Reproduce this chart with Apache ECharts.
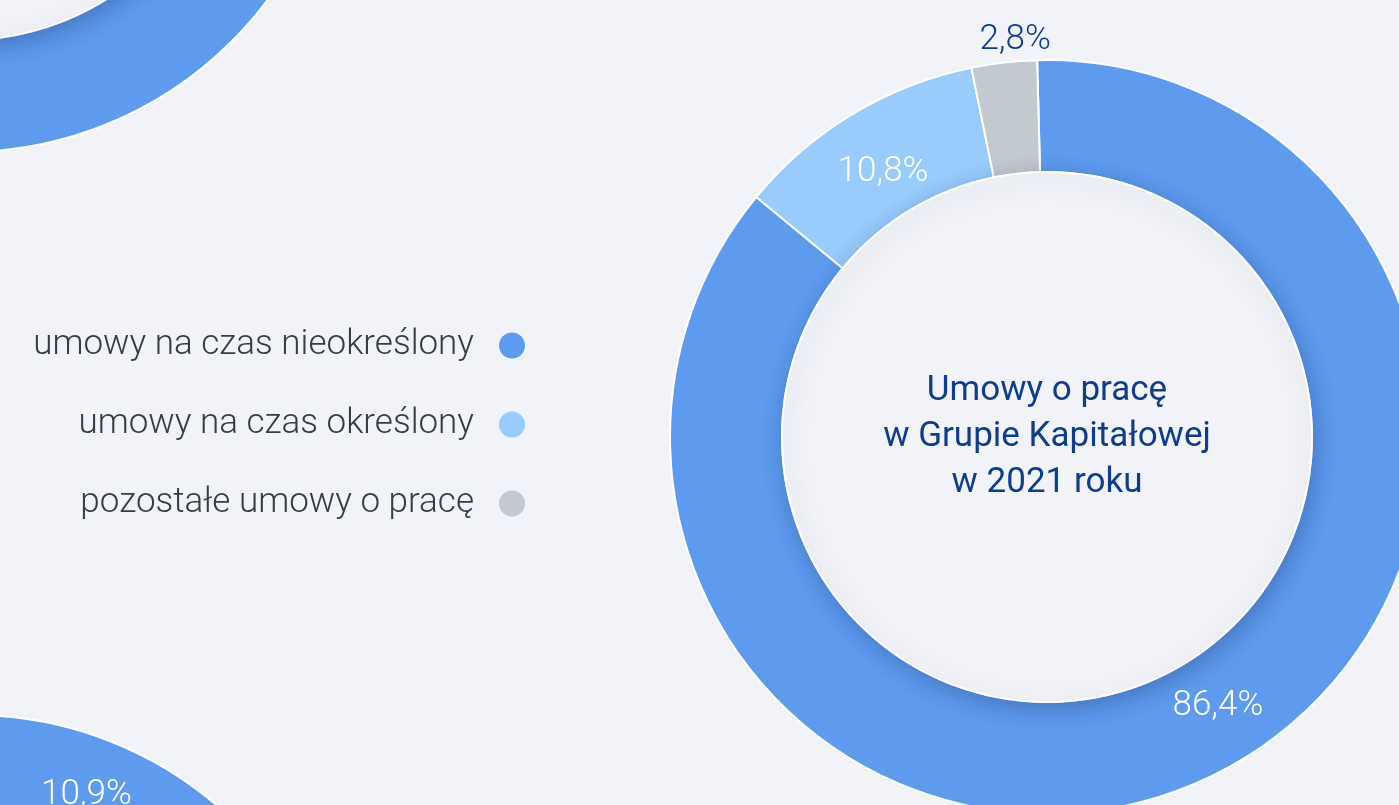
<!DOCTYPE html>
<html>
<head>
<meta charset="utf-8">
<title>Umowy o pracę w Grupie Kapitałowej</title>
<script src="https://cdn.jsdelivr.net/npm/echarts@6/dist/echarts.min.js"></script>
<style>
    html, body { margin: 0; padding: 0; background: #f1f3f8; }
    #chart { width: 1399px; height: 805px; }
</style>
</head>
<body>
<div id="chart"></div>
<script>
const categories = ['umowy na czas nieokreślony', 'umowy na czas określony', 'pozostałe umowy o pracę'];
const shares2021 = [86.4, 10.8, 2.8];
const centerTitle = ['Umowy o pracę', 'w Grupie Kapitałowej', 'w 2021 roku'];
// pieces of the neighbouring charts that are cut off by the page edge
const topLeftShares = [100];
const bottomLeftShares = [10.9, 89.1];

const colors = ['#5e9bef', '#99cbfd', '#c3c9d1'];
const bg = '#f1f3f8';
const navy = '#0f3d8c';
const font = 'Roboto';

// nudges of the labels away from the middle of their slice
const mainShift = [[29, -22], [3, 13], [5, -75]];
const bottomShift = [[-5, 4], [0, 0]];

const pct = v => String(v).replace('.', ',') + '%';

const ringStyle = { borderColor: '#fff', borderWidth: 2 };
const holeStyle = {
    color: bg, borderColor: '#fff', borderWidth: 2,
    shadowBlur: 22, shadowOffsetX: 3, shadowOffsetY: 6,
    shadowColor: 'rgba(20, 40, 90, 0.3)'
};
const labelFont = { fontFamily: font, fontWeight: 300, fontSize: 35, color: '#fff' };

const chart = echarts.init(document.getElementById('chart'));

chart.setOption({
    backgroundColor: bg,
    animation: false,
    legend: {
        data: categories,
        orient: 'vertical',
        align: 'right',
        right: 869,
        top: 323,
        icon: 'circle',
        itemWidth: 26,
        itemHeight: 26,
        itemGap: 44,
        selectedMode: false,
        itemStyle: { borderWidth: 0 },
        textStyle: {
            fontFamily: font, fontWeight: 300, fontSize: 35, color: '#383c42',
            lineHeight: 26, padding: [0, 20, 0, 0]
        }
    },
    series: [
        {
            type: 'pie',
            silent: true,
            center: [-35, -225],
            radius: [265, 377],
            itemStyle: ringStyle,
            label: { show: false },
            data: topLeftShares.map(v => ({ name: '', value: v, itemStyle: { color: colors[0] } }))
        },
        {
            type: 'pie',
            silent: true,
            center: [-35, -225],
            radius: [0, 265],
            itemStyle: holeStyle,
            label: { show: false },
            data: [{ name: '', value: 1 }]
        },
        {
            type: 'pie',
            silent: true,
            center: [-28, 1092],
            radius: [265, 377],
            startAngle: 88,
            itemStyle: ringStyle,
            label: Object.assign({ show: true, position: 'inside', formatter: p => pct(p.value) }, labelFont),
            labelLine: { show: false },
            labelLayout: p => ({ dx: bottomShift[p.dataIndex][0], dy: bottomShift[p.dataIndex][1] }),
            data: bottomLeftShares.map((v, i) => ({
                name: '', value: v,
                itemStyle: { color: colors[i] },
                label: { show: i === 0 }
            }))
        },
        {
            type: 'pie',
            silent: true,
            center: [1047, 437],
            radius: [265, 377],
            startAngle: 91.5,
            avoidLabelOverlap: false,
            itemStyle: ringStyle,
            label: Object.assign({ show: true, position: 'inside', formatter: p => pct(p.value) }, labelFont),
            labelLine: { show: false },
            labelLayout: p => ({ dx: mainShift[p.dataIndex][0], dy: mainShift[p.dataIndex][1] }),
            data: categories.map((name, i) => ({
                name: name,
                value: shares2021[i],
                itemStyle: { color: colors[i] },
                label: i === 2 ? { color: navy } : {}
            }))
        },
        {
            type: 'pie',
            silent: true,
            center: [1047, 437],
            radius: [0, 265],
            itemStyle: holeStyle,
            label: {
                show: true,
                position: 'center',
                formatter: centerTitle.join('\n'),
                fontFamily: font,
                fontSize: 35,
                lineHeight: 46,
                color: navy
            },
            data: [{ name: '', value: 1 }]
        }
    ]
});
</script>
</body>
</html>
